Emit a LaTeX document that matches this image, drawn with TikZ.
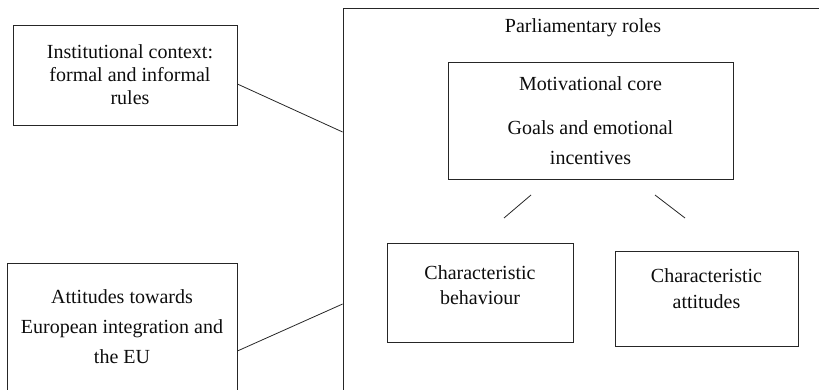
\documentclass[tikz,border=0pt]{standalone}
\usepackage{fontspec}
\setmainfont{Liberation Serif}
\colorlet{frameGray}{black!85}
\colorlet{textGray}{black!95}
\tikzset{
  box/.style={draw=frameGray, line width=0.8pt, rectangle, inner sep=0pt},
  txt/.style={align=center, text=textGray, inner sep=0pt},
  link/.style={draw=frameGray, line width=0.8pt}
}

\begin{document}
\begin{tikzpicture}[x=1pt, y=-1pt]
  \useasboundingbox (0,0) rectangle (819,389);
  \clip (0,0) rectangle (819,389);

  % Frame for parliamentary roles (runs off the page)
  \node[box, minimum width=487pt, minimum height=392pt] (roles) at (586.5,204) {};
  \node[txt, font=\fontsize{20}{23}\selectfont] (rolestitle) at (583,28) {Parliamentary roles};

  % Motivational core
  \node[box, txt, draw=frameGray, minimum width=285pt, minimum height=117pt,
        font=\fontsize{20}{30}\selectfont] (core) at (590.5,120.5)
        {Motivational core\\[14pt]Goals and emotional\\incentives};

  % Characteristic behaviour / attitudes
  \node[box, minimum width=186pt, minimum height=99pt] (behbox) at (480,292.5) {};
  \node[txt, font=\fontsize{20}{25}\selectfont] (behtext) at (480,285.5) {Characteristic\\behaviour};

  \node[box, minimum width=183pt, minimum height=95pt] (attbox) at (706.5,298.5) {};
  \node[txt, font=\fontsize{20}{26}\selectfont] (atttext) at (706.5,289) {Characteristic\\attitudes};

  \coordinate (lefttop) at (531,195);
  \coordinate (leftbot) at (504,218);
  \coordinate (righttop) at (655,195);
  \coordinate (rightbot) at (685,218);
  \draw[link] (lefttop) -- (leftbot);
  \draw[link] (righttop) -- (rightbot);

  % Outside influences
  \node[box, minimum width=224pt, minimum height=100pt] (inst) at (125,75) {};
  \node[txt, font=\fontsize{20}{23}\selectfont] (insttext) at (130,75)
        {Institutional context:\\formal and informal\\rules};

  \node[box, txt, draw=frameGray, minimum width=230pt, minimum height=128pt,
        font=\fontsize{20}{30}\selectfont] (eu) at (122,327)
        {Attitudes towards\\European integration and\\the EU};

  \draw[link] ([yshift=-9pt]inst.east) -- ([yshift=72pt]roles.west);
  \draw[link] ([yshift=-24pt]eu.east) -- ([yshift=-100pt]roles.west);
\end{tikzpicture}
\end{document}
